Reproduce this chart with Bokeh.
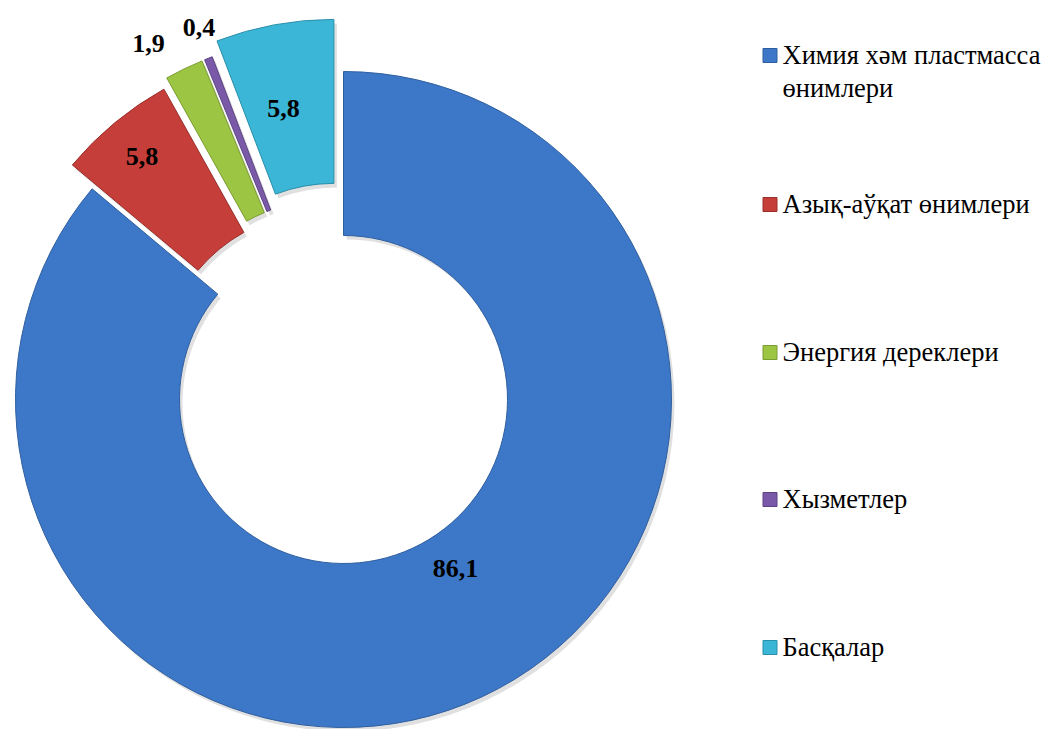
import numpy as np
from bokeh.plotting import figure
from bokeh.models import Range1d
from bokeh.core.properties import value
from bokeh.embed import file_html
from bokeh.resources import INLINE

# ---- data ----
categories = ["Химия хәм пластмасса\nөнимлери", "Азық-аўқат өнимлери",
              "Энергия дереклери", "Хызметлер", "Басқалар"]
values = [86.1, 5.8, 1.9, 0.4, 5.8]
value_labels = ["86,1", "5,8", "1,9", "0,4", "5,8"]
colors = ["#3D78C8", "#C63E3A", "#9DC544", "#7A5AA8", "#3BB6D6"]
edge_colors = ["#2F5E9E", "#9A2E2B", "#7A9C30", "#5C4382", "#2A8FAA"]

# ---- style / layout ----
W, H = 1044, 729
CX, CY = 343, 399          # page coords of doughnut centre
R_OUT, R_IN = 328, 164
explode = [0, 31, 39, 39, 53]
label_r = [203, 285, 367, 360, 244]
label_shift_deg = [-8.5, 0, -3.3, 0.4, -1.5]
leg_marker_x = 769.5
leg_text_x = 782
leg_y = [54, 203, 351, 498, 646]
leg_line_gap = 33
FONT = "Liberation Serif"


def px(sx):
    return sx


def py(sy):
    return H - sy


p = figure(width=W, height=H, x_range=Range1d(0, W), y_range=Range1d(0, H),
           output_backend="svg", toolbar_location=None,
           x_axis_type=None, y_axis_type=None, min_border=0)
p.outline_line_color = None
p.grid.visible = False
p.background_fill_color = "white"

vals = np.array(values, dtype=float)
cum = np.concatenate([[0.0], np.cumsum(vals)]) / vals.sum() * 2 * np.pi
t1, t2 = cum[:-1], cum[1:]          # clockwise from 12 o'clock
mid = (t1 + t2) / 2
ex = np.array(explode, dtype=float)
xs = px(CX) + ex * np.sin(mid)
ys = py(CY) + ex * np.cos(mid)
start = np.pi / 2 - t2
end = np.pi / 2 - t1

# soft shadow
p.annular_wedge(x=xs + 3, y=ys - 4, inner_radius=R_IN, outer_radius=R_OUT,
                start_angle=start, end_angle=end, fill_color="#000000",
                fill_alpha=0.12, line_color=None)
# slices
p.annular_wedge(x=xs, y=ys, inner_radius=R_IN, outer_radius=R_OUT,
                start_angle=start, end_angle=end, fill_color=colors,
                line_color=edge_colors, line_width=1)

# data labels
la = mid + np.radians(label_shift_deg)
lr = np.array(label_r, dtype=float)
lx = xs + lr * np.sin(la)
ly = ys + lr * np.cos(la)
p.text(x=lx, y=ly, text=value_labels, text_font=value(FONT),
       text_font_size="26px", text_font_style="bold", text_color="black",
       text_align="center", text_baseline="middle")

# legend
for i, (cat, col, ec) in enumerate(zip(categories, colors, edge_colors)):
    yc = leg_y[i]
    p.rect(x=px(leg_marker_x), y=py(yc + 1), width=14, height=14,
           fill_color=col, line_color=ec, line_width=1)
    for j, line in enumerate(cat.split("\n")):
        p.text(x=px(leg_text_x), y=py(yc + j * leg_line_gap), text=[line],
               text_font=value(FONT), text_font_size="26.5px",
               text_color="black", text_align="left", text_baseline="middle")

open("out.html", "w").write(file_html(p, INLINE))
